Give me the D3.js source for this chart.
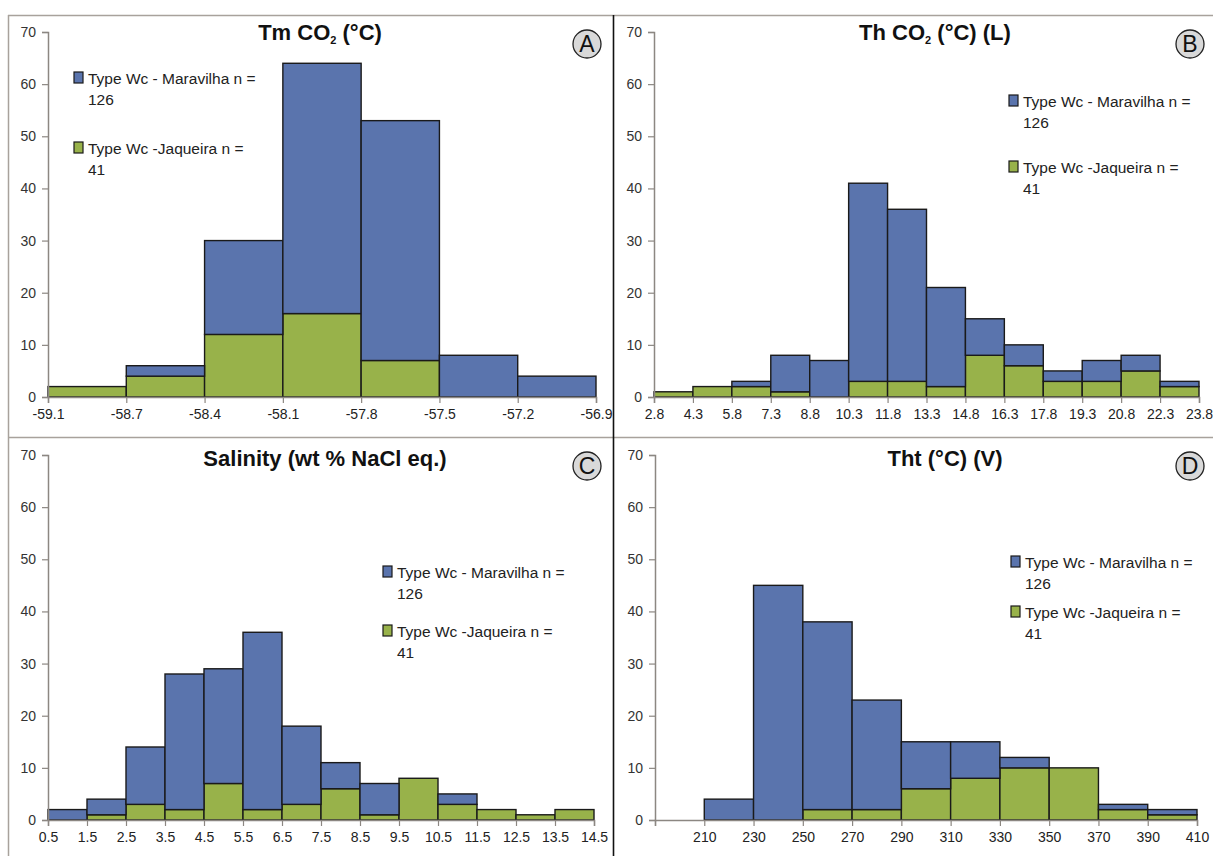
<!DOCTYPE html>
<html>
<head>
<meta charset="utf-8">
<script src="https://cdn.jsdelivr.net/npm/d3@7"></script>
<style>
  body { margin: 0; background: #fff; }
  svg { display: block; }
  text { font-family: "Liberation Sans", Arial, sans-serif; }
  .narrow { font-family: "Liberation Sans Narrow", "Liberation Sans", Arial, sans-serif; }
</style>
</head>
<body>
<svg id="chart" width="1213" height="856"></svg>
<script>
// A - Tm CO2
const edgesA = ["-59.1", "-58.7", "-58.4", "-58.1", "-57.8", "-57.5", "-57.2", "-56.9"];
const maravilhaA = [0, 2, 18, 48, 46, 8, 4];
const jaqueiraA = [2, 4, 12, 16, 7, 0, 0];

// B - Th CO2 (L)
const edgesB = ["2.8", "4.3", "5.8", "7.3", "8.8", "10.3", "11.8", "13.3", "14.8", "16.3", "17.8", "19.3", "20.8", "22.3", "23.8"];
const maravilhaB = [0, 0, 1, 7, 7, 38, 33, 19, 7, 4, 2, 4, 3, 1];
const jaqueiraB = [1, 2, 2, 1, 0, 3, 3, 2, 8, 6, 3, 3, 5, 2];

// C - Salinity
const edgesC = ["0.5", "1.5", "2.5", "3.5", "4.5", "5.5", "6.5", "7.5", "8.5", "9.5", "10.5", "11.5", "12.5", "13.5", "14.5"];
const maravilhaC = [2, 3, 11, 26, 22, 34, 15, 5, 6, 0, 2, 0, 0, 0];
const jaqueiraC = [0, 1, 3, 2, 7, 2, 3, 6, 1, 8, 3, 2, 1, 2];

// D - Tht (V)
const edgesD = ["", "210", "230", "250", "270", "290", "310", "330", "350", "370", "390", "410"];
const maravilhaD = [0, 4, 45, 36, 21, 9, 7, 2, 0, 1, 1];
const jaqueiraD = [0, 0, 0, 2, 2, 6, 8, 10, 10, 2, 1];

const yTicks = [0, 10, 20, 30, 40, 50, 60, 70];
const legendLabels = [["Type Wc - Maravilha n =", "126"], ["Type Wc -Jaqueira n =", "41"]];
const blue = "#5a74ad", green = "#98b24a";

const svg = d3.select("#chart");

// frame
const frame = svg.append("g");
frame.append("line").attr("x1", 8).attr("x2", 1213).attr("y1", 15.5).attr("y2", 15.5).attr("stroke", "#a8a29c").attr("stroke-width", 1.5);
frame.append("line").attr("x1", 8.5).attr("x2", 8.5).attr("y1", 15).attr("y2", 856).attr("stroke", "#a8a29c").attr("stroke-width", 1.5);
frame.append("line").attr("x1", 8).attr("x2", 1213).attr("y1", 437.5).attr("y2", 437.5).attr("stroke", "#a8a29c").attr("stroke-width", 1.5);
frame.append("line").attr("x1", 613.5).attr("x2", 613.5).attr("y1", 15).attr("y2", 856).attr("stroke", "#111").attr("stroke-width", 1.6);

const panels = [
  { edges: edgesA, mar: maravilhaA, jaq: jaqueiraA, x0: 48, x1: 596, y0: 397, y1: 32,
    title: ["Tm CO", "2", " (°C)"], tx: 320, ty: 40, letter: "A", cx: 587, cy: 44, lx: 74, ly: 78, lgap: 70 },
  { edges: edgesB, mar: maravilhaB, jaq: jaqueiraB, x0: 654, x1: 1199, y0: 397, y1: 32,
    title: ["Th CO", "2", " (°C) (L)"], tx: 935, ty: 40, letter: "B", cx: 1190, cy: 44, lx: 1009, ly: 101, lgap: 66 },
  { edges: edgesC, mar: maravilhaC, jaq: jaqueiraC, x0: 48, x1: 594, y0: 820, y1: 455,
    title: ["Salinity (wt % NaCl eq.)"], tx: 325, ty: 466, letter: "C", cx: 587, cy: 466, lx: 383, ly: 572, lgap: 59 },
  { edges: edgesD, mar: maravilhaD, jaq: jaqueiraD, x0: 655, x1: 1197, y0: 820, y1: 455,
    title: ["Tht (°C) (V)"], tx: 945, ty: 466, letter: "D", cx: 1190, cy: 466, lx: 1011, ly: 562, lgap: 50 }
];

panels.forEach(p => {
  const g = svg.append("g");
  const n = p.mar.length;
  const x = d3.scaleLinear().domain([0, n]).range([p.x0, p.x1]);
  const y = d3.scaleLinear().domain([0, 70]).range([p.y0, p.y1]);

  const rows = p.mar.map((m, i) => ({ i, jaq: p.jaq[i], mar: m }));
  const series = d3.stack().keys(["jaq", "mar"])(rows);

  // bars
  g.selectAll("g.series").data(series).join("g")
    .attr("fill", d => d.key === "jaq" ? green : blue)
    .selectAll("rect").data(d => d.filter(s => s[1] > s[0])).join("rect")
    .attr("x", d => x(d.data.i))
    .attr("width", x(1) - x(0))
    .attr("y", d => y(d[1]))
    .attr("height", d => y(d[0]) - y(d[1]))
    .attr("stroke", "#1a1a1a").attr("stroke-width", 1.4);

  // y axis
  const ya = g.append("g").attr("transform", `translate(${p.x0},0)`)
    .call(d3.axisLeft(y).tickValues(yTicks).tickSize(6).tickPadding(6));
  ya.select(".domain").attr("stroke", "#8c8782").attr("stroke-width", 1.5);
  ya.selectAll(".tick line").attr("stroke", "#8c8782").attr("stroke-width", 1.2);
  ya.selectAll("text").attr("font-size", 14).attr("fill", "#333").attr("class", "narrow");

  // x axis
  const xa = g.append("g").attr("transform", `translate(0,${p.y0})`)
    .call(d3.axisBottom(x).tickValues(d3.range(n + 1)).tickFormat(i => p.edges[i]).tickSize(6).tickPadding(6));
  xa.select(".domain").attr("stroke", "#8c8782").attr("stroke-width", 1.5);
  xa.selectAll(".tick line").attr("stroke", "#8c8782").attr("stroke-width", 1.2);
  xa.selectAll("text").attr("font-size", 14).attr("fill", "#222").attr("class", "narrow");

  // title
  const t = g.append("text").attr("x", p.tx).attr("y", p.ty).attr("text-anchor", "middle")
    .attr("font-size", 22).attr("font-weight", "bold").attr("fill", "#111").attr("class", "narrow");
  p.title.forEach((s, k) => {
    const ts = t.append("tspan").text(s);
    if (k === 1) ts.attr("font-size", 11).attr("dy", 4);
    if (k === 2) ts.attr("dy", -4);
  });

  // panel letter
  g.append("circle").attr("cx", p.cx).attr("cy", p.cy).attr("r", 14)
    .attr("fill", "#d9d9d9").attr("stroke", "#222").attr("stroke-width", 1.3);
  g.append("text").attr("x", p.cx).attr("y", p.cy + 8).attr("text-anchor", "middle")
    .attr("font-size", 23).attr("fill", "#111").text(p.letter);

  // legend
  const lg = g.append("g");
  [blue, green].forEach((c, k) => {
    const yy = p.ly + k * p.lgap;
    lg.append("rect").attr("x", p.lx).attr("y", yy - 6).attr("width", 9).attr("height", 11)
      .attr("fill", c).attr("stroke", "#1a1a1a").attr("stroke-width", 1.2);
    lg.append("text").attr("class", "narrow").attr("x", p.lx + 14).attr("y", yy + 5.5)
      .attr("font-size", 15.5).attr("fill", "#222").text(legendLabels[k][0]);
    lg.append("text").attr("class", "narrow").attr("x", p.lx + 14).attr("y", yy + 27)
      .attr("font-size", 15.5).attr("fill", "#222").text(legendLabels[k][1]);
  });
});
</script>
</body>
</html>
